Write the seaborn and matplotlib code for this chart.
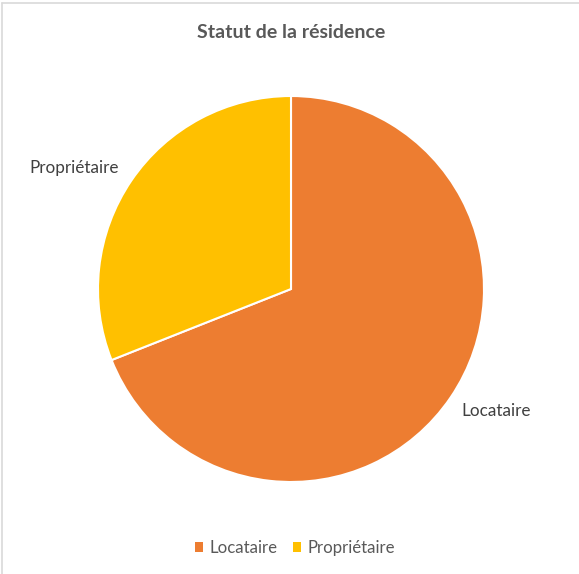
import matplotlib
matplotlib.use("Agg")
import matplotlib.pyplot as plt
import seaborn as sns
from matplotlib.patches import Patch
from matplotlib.lines import Line2D

sns.set_theme(style="white")
plt.rcParams['font.family'] = ['Lato', 'DejaVu Sans']

# Data
categories = ["Locataire", "Propriétaire"]
values = [69, 31]
colors = ["#ED7D31", "#FFC000"]
title = "Statut de la résidence"
text_color = "#595959"

W, H = 579, 574
fig = plt.figure(figsize=(W / 100, H / 100), dpi=100)
fig.patch.set_facecolor("white")

# Light frame along the top and left edges
fig.add_artist(Line2D([2 / W, 1], [1 - 3 / H, 1 - 3 / H], color="#D9D9D9", lw=1.2, transform=fig.transFigure))
fig.add_artist(Line2D([2 / W, 2 / W], [0, 1 - 3 / H], color="#D9D9D9", lw=1.2, transform=fig.transFigure))

cx, cy, r = 291, 289, 193
ax = fig.add_axes([(cx - r) / W, (H - cy - r) / H, 2 * r / W, 2 * r / H])
wedges, _ = ax.pie(values, colors=colors, startangle=90, counterclock=False,
                   wedgeprops=dict(edgecolor="white", linewidth=1.5))
ax.set_xlim(-1, 1)
ax.set_ylim(-1, 1)
ax.set_aspect("equal")
ax.axis("off")

# Category labels outside the slices
label_pos = {"Locataire": (1.062, -0.632), "Propriétaire": (-1.124, 0.627)}
for cat in categories:
    x, y = label_pos[cat]
    ax.text(x, y, cat, ha="center", va="center", fontsize=12.3, color="#404040", clip_on=False)

fig.text(cx / W, 1 - 32 / H, title, ha="center", va="center", fontsize=14,
         fontweight="bold", color=text_color)

handles = [Patch(facecolor=c, edgecolor="none") for c in colors]
fig.legend(handles, categories, loc="center", bbox_to_anchor=(295 / W, 1 - 548 / H),
           ncol=2, frameon=False, fontsize=12.1, handlelength=0.5, handleheight=0.5,
           handletextpad=0.4, columnspacing=0.9, labelcolor=text_color)

fig.savefig("out.png", dpi=100, facecolor="white")
